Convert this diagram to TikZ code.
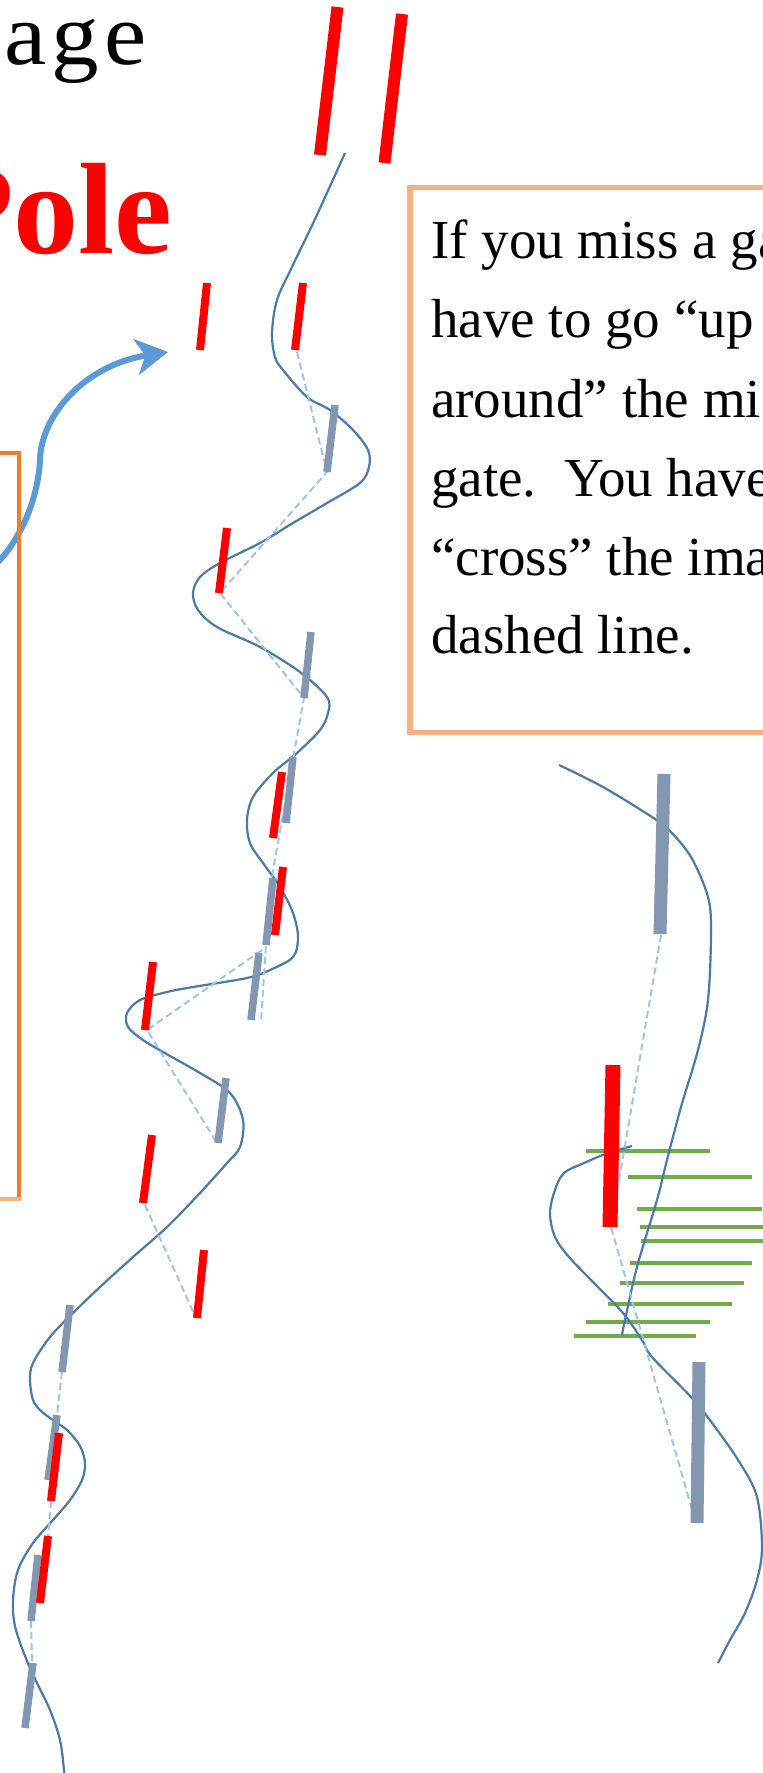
\documentclass[tikz,border=0pt]{standalone}
\usepackage{fontspec}
\setmainfont{Liberation Serif}
\usetikzlibrary{arrows.meta}
\definecolor{gatered}{RGB}{255,0,0}
\definecolor{gategray}{RGB}{132,151,176}
\definecolor{pathblue}{RGB}{74,122,168}
\definecolor{dashblue}{RGB}{157,195,230}
\definecolor{arrowblue}{RGB}{91,155,213}
\definecolor{stripegreen}{RGB}{112,173,71}
\definecolor{boxpeach}{RGB}{244,177,131}
\definecolor{boxorange}{RGB}{237,125,49}
\begin{document}
\begin{tikzpicture}[x=1pt,y=-1pt,
  bigred/.style={draw=gatered, line width=12pt},
  redgate/.style={draw=gatered, line width=8pt},
  graygate/.style={draw=gategray, line width=7.5pt},
  bigredgate/.style={draw=gatered, line width=15pt},
  biggraygate/.style={draw=gategray, line width=13pt},
  skiline/.style={draw=pathblue, line width=2.2pt},
  imagline/.style={draw=dashblue, line width=1.9pt, dash pattern=on 7pt off 4pt},
  stripe/.style={draw=stripegreen, line width=4.5pt},
  bodytext/.style={anchor=base west, inner sep=0pt, font=\fontsize{55}{66}\selectfont}
]
\useasboundingbox (0,0) rectangle (763,1773);
\fill[white] (0,0) rectangle (763,1773);

% titles
\node[anchor=base west, inner sep=0pt, font=\fontsize{88}{100}\selectfont] (age) at (4,64) {\scalebox{1.08}[1]{a\kern5pt g\kern5pt e}};
\node[anchor=base west, inner sep=0pt, text=gatered, font=\fontsize{130}{150}\selectfont\bfseries] (pole) at (-66,253) {Pole};

% curved arrow
\draw[draw=arrowblue, line width=6pt, -{Stealth[length=32pt,width=36pt,inset=9pt]}]
  (-3,563) .. controls (20,540) and (38,500) .. (40,460)
  .. controls (41,415) and (85,365) .. (168,352);

% left box (cut)
\draw[draw=boxorange, line width=3.5pt] (-5,453) -- (19,453) -- (19,1198);
\draw[draw=boxpeach, line width=3.5pt] (-5,1199) -- (20.75,1199);

% right text box
\draw[draw=boxpeach, line width=5.5pt] (800,187.5) -- (410,187.5) -- (410,732.5) -- (800,732.5);
\node[bodytext] (t1) at (431,258) {If you miss a ga};
\node[bodytext] (t2) at (431,337) {have to go “up};
\node[bodytext] (t3) at (431,417) {around” the mi};
\node[bodytext] (t4) at (431,496) {gate.\ \ You have};
\node[bodytext] (t5) at (431,575) {“cross” the ima};
\node[bodytext] (t6) at (431,653) {dashed line.};

% ---------- middle course ----------
\draw[skiline] plot[smooth, tension=0.55] coordinates {
 (345,153) (316,217) (292,267) (277,300) (272,333) (275,357) (283,370) (307,397)
 (330,410) (353,430) (368,450) (369,467) (360,483) (327,503) (293,523) (260,543)
 (220,563) (200,577) (193,593) (198,610) (217,627) (260,647) (300,672) (327,697)
 (328,713) (320,730) (297,753) (273,773) (253,797) (247,820) (250,843) (263,863)
 (280,887) (293,913) (298,937) (293,957) (270,970) (247,978) (193,987) (167,992)
 (140,1000) (127,1013) (128,1027) (143,1040) (163,1052) (200,1073) (230,1093)
 (243,1120) (240,1147) (227,1163) (200,1193) (167,1227) (133,1257) (100,1287)
 (73,1313) (50,1337) (33,1363) (30,1380) (33,1400) (40,1410) (50,1418) (67,1430)
 (80,1446) (85,1463) (82,1480) (70,1500) (53,1520) (33,1543) (18,1570) (13,1600)
 (15,1626) (25,1656) (37,1683) (50,1710) (60,1740) (64,1770) (65,1785)};

% imaginary (dashed) line
\draw[imagline] (297,352) -- (327,472) -- (220,593) -- (304,698) -- (273,870) -- (266,945) -- (261,1022);
\draw[imagline] (262,950) -- (147,1030) -- (217,1143);
\draw[imagline] (145,1205) -- (196,1318);
\draw[imagline] (62,1372) -- (57,1415);
\draw[imagline] (51,1501) -- (48,1536);
\draw[imagline] (31,1621) -- (32,1663);

% gray gates
\draw[graygate] (335,405) -- (327,472);
\draw[graygate] (311,632) -- (304,698);
\draw[graygate] (293,757) -- (286,823);
\draw[graygate] (273,878) -- (266,945);
\draw[graygate] (259,953) -- (251,1020);
\draw[graygate] (226,1078) -- (218,1143);
\draw[graygate] (70,1305) -- (62,1372);
\draw[graygate] (57,1415) -- (48,1480);
\draw[graygate] (38,1555) -- (31,1621);
\draw[graygate] (33,1663) -- (25,1728);

% red gates
\draw[bigred] (337.5,7) -- (320,155);
\draw[bigred] (402,14) -- (384.5,163);
\draw[redgate] (207,283) -- (200,350);
\draw[redgate] (303,283) -- (295,350);
\draw[redgate] (227,528) -- (219,593);
\draw[redgate] (282,772) -- (273,838);
\draw[redgate] (283,867) -- (275,935);
\draw[redgate] (153,962) -- (145,1030);
\draw[redgate] (152,1135) -- (143,1203);
\draw[redgate] (204,1250) -- (197,1318);
\draw[redgate] (59,1433) -- (51,1501);
\draw[redgate] (48,1536) -- (40,1603);

% ---------- right panel ----------
\foreach \yy/\xa/\xb in {1151/586/710, 1177/628/752, 1209/637/762, 1227/640/765,
  1241/641/765, 1263/630/752, 1283/620/744, 1304/608/732, 1322/586/710, 1336/574/696}
  \draw[stripe] (\xa,\yy) -- (\xb,\yy);

\draw[skiline] plot[smooth, tension=0.55] coordinates {
 (559,765) (603,787) (652,817) (669,830) (691,857) (708,897) (711,933) (708,1000)
 (698,1050) (681,1107) (667,1160) (657,1200) (637,1267) (625,1320) (622,1335)};
\draw[skiline] plot[smooth, tension=0.55] coordinates {
 (632,1146) (608,1153) (584,1163) (564,1173) (555,1190) (550,1213) (555,1237)
 (569,1257) (594,1283) (623,1313) (642,1340) (652,1357) (691,1397) (715,1427)
 (740,1463) (757,1497) (762,1547) (757,1580) (745,1613) (730,1640) (718,1663)};

\draw[imagline] (661,935) -- (611,1227) -- (695,1520);

\draw[biggraygate] (664,774) -- (660,934);
\draw[bigredgate] (613,1065) -- (610,1227);
\draw[biggraygate] (699,1362) -- (697,1523);
\end{tikzpicture}
\end{document}
